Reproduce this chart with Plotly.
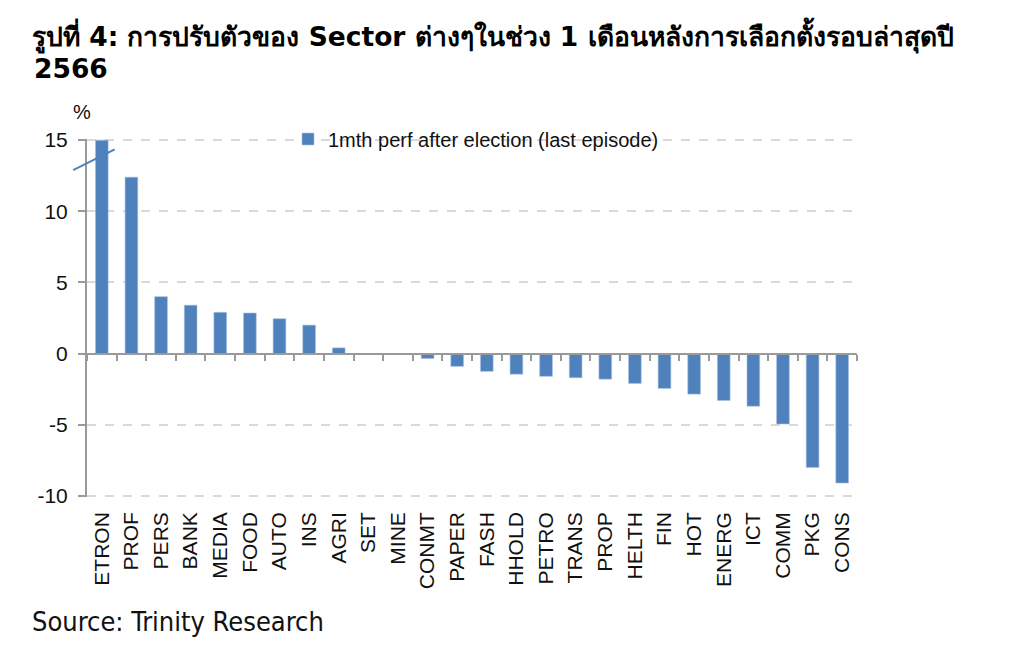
import plotly.graph_objects as go

categories = ["ETRON", "PROF", "PERS", "BANK", "MEDIA", "FOOD", "AUTO", "INS", "AGRI",
              "SET", "MINE", "CONMT", "PAPER", "FASH", "HHOLD", "PETRO", "TRANS", "PROP",
              "HELTH", "FIN", "HOT", "ENERG", "ICT", "COMM", "PKG", "CONS"]
perf_1m = [15.0, 12.4, 4.0, 3.4, 2.9, 2.85, 2.45, 2.0, 0.4,
           0.0, 0.0, -0.35, -0.9, -1.25, -1.45, -1.6, -1.7, -1.8,
           -2.1, -2.45, -2.85, -3.3, -3.7, -4.95, -8.0, -9.1]
y_ticks = [15, 10, 5, 0, -5, -10]
series_name = "1mth perf after election (last episode)"
title_line1 = "รูปที่ 4: การปรับตัวของ Sector ต่างๆในช่วง 1 เดือนหลังการเลือกตั้งรอบล่าสุดปี"
title_line2 = "2566"
source_text = "Source: Trinity Research"

BLUE = "#4F81BD"
AXIS = "#9a9a9a"
TXT = "#111111"
FONT = "Liberation Sans, Arial, sans-serif"
TFONT = "DejaVu Sans, Noto Sans, sans-serif"
SFONT = "DejaVu Sans Condensed, DejaVu Sans, sans-serif"

Y_LO, Y_HI = -10.08, 15.08

fig = go.Figure()
fig.add_trace(go.Bar(x=categories, y=perf_1m, name=series_name,
                     marker=dict(color=BLUE, line=dict(color="#a9c2e2", width=0.6)),
                     width=0.43))
fig.add_trace(go.Scatter(x=categories, y=[None] * len(categories), xaxis="x2",
                         showlegend=False, hoverinfo="skip", mode="markers"))

fig.update_layout(
    width=1016, height=645,
    paper_bgcolor="white", plot_bgcolor="white",
    margin=dict(l=79, r=167, t=131, b=156),
    font=dict(family=FONT, size=20, color=TXT),
    title=dict(text=title_line1, x=24 / 1016, xref="container", xanchor="left",
               y=1 - 29 / 645, yref="container", yanchor="middle",
               font=dict(family=TFONT, size=26.5, color="black", weight="bold")),
    showlegend=True,
    legend=dict(x=(288 - 87) / 770, y=1.0, xanchor="left", yanchor="middle",
                bgcolor="rgba(0,0,0,0)", font=dict(size=20, color=TXT),
                itemwidth=30),
    xaxis=dict(type="category", categoryorder="array", categoryarray=categories,
               tickangle=-90, showline=False, ticks="", showgrid=False,
               ticklabelstandoff=10,
               tickfont=dict(size=21, color=TXT), range=[-0.5, len(categories) - 0.5]),
    xaxis2=dict(type="category", categoryorder="array", categoryarray=categories,
                overlaying="x", anchor="free", position=(0 - Y_LO) / (Y_HI - Y_LO),
                side="bottom",
                showticklabels=False, showline=True, linecolor=AXIS, linewidth=2,
                ticks="outside", tickson="boundaries", ticklen=6, tickcolor=AXIS,
                tickwidth=2, showgrid=False, range=[-0.5, len(categories) - 0.5]),
    yaxis=dict(range=[Y_LO, Y_HI], tickvals=y_ticks, ticktext=[str(v) for v in y_ticks],
               showline=True, linecolor=AXIS, linewidth=2, ticks="outside",
               ticklen=7, tickcolor=AXIS, tickwidth=2, ticklabelstandoff=6,
               showgrid=True, gridcolor="#d9d9d9", griddash="dash", gridwidth=1.5,
               zeroline=False, tickfont=dict(size=21, color=TXT)),
)

fig.add_shape(type="line", xref="paper", yref="paper",
              x0=-0.018, y0=0.913, x1=0.036, y1=0.971,
              line=dict(color=BLUE, width=2))

fig.add_annotation(text=title_line2, xref="paper", yref="paper",
                   x=(24 - 79) / 770, y=1 + (131 - 60) / 358,
                   xanchor="left", yanchor="middle", showarrow=False,
                   font=dict(family=TFONT, size=26.5, color="black", weight="bold"))
fig.add_annotation(text="%", xref="paper", yref="paper", x=-0.0065, y=1.075,
                   xanchor="center", yanchor="middle", showarrow=False,
                   font=dict(size=20, color=TXT))
fig.add_annotation(text=source_text, xref="paper", yref="paper", x=-0.074, y=-0.349,
                   xanchor="left", yanchor="middle", showarrow=False,
                   font=dict(family=SFONT, size=27, color=TXT))

fig.write_html("out.html")
